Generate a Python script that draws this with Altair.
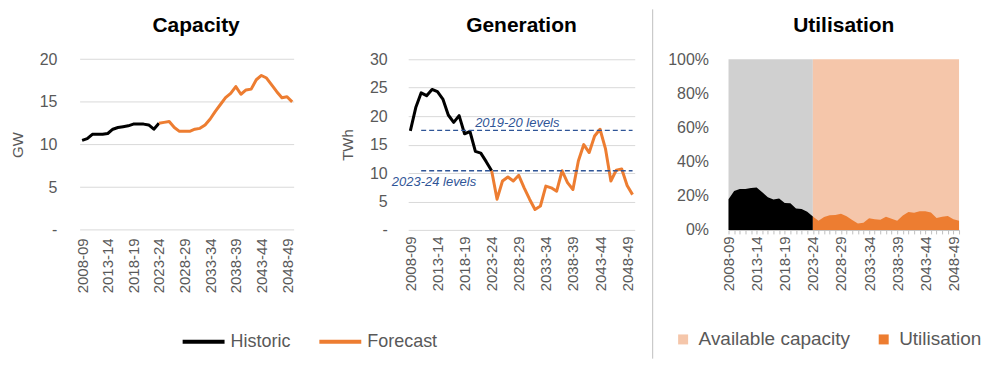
import altair as alt
import pandas as pd

# ---------------- data ----------------
years = ["2008-09", "2009-10", "2010-11", "2011-12", "2012-13", "2013-14", "2014-15",
         "2015-16", "2016-17", "2017-18", "2018-19", "2019-20", "2020-21", "2021-22",
         "2022-23", "2023-24", "2024-25", "2025-26", "2026-27", "2027-28", "2028-29",
         "2029-30", "2030-31", "2031-32", "2032-33", "2033-34", "2034-35", "2035-36",
         "2036-37", "2037-38", "2038-39", "2039-40", "2040-41", "2041-42", "2042-43",
         "2043-44", "2044-45", "2045-46", "2046-47", "2047-48", "2048-49", "2049-50"]
label_years = ["2008-09", "2013-14", "2018-19", "2023-24", "2028-29", "2033-34",
               "2038-39", "2043-44", "2048-49"]
hist_years = years[:16]
fcst_years = years[15:]

# Capacity (GW)
cap_hist = [10.5, 10.7, 11.2, 11.2, 11.2, 11.3, 11.8, 12.0, 12.1, 12.2, 12.4, 12.4,
            12.4, 12.3, 11.8, 12.5]
cap_fcst = [12.5, 12.6, 12.7, 12.0, 11.55, 11.55, 11.55, 11.8, 11.9, 12.3, 13.0, 13.9,
            14.7, 15.5, 16.0, 16.8, 15.9, 16.4, 16.5, 17.6, 18.1, 17.8, 17.0, 16.2,
            15.5, 15.6, 15.0]

# Generation (TWh)
gen_hist = [17.4, 21.5, 24.1, 23.6, 24.7, 24.3, 23.0, 20.2, 18.9, 20.1, 16.9, 17.3,
            13.8, 13.5, 12.0, 10.4]
gen_fcst = [10.4, 5.4, 8.6, 9.3, 8.6, 9.6, 7.4, 5.4, 3.6, 4.2, 7.7, 7.4, 6.8, 10.4,
            8.3, 7.1, 12.1, 15.0, 13.6, 16.5, 17.7, 14.3, 8.6, 10.5, 10.7, 7.8, 6.2]

# Utilisation (%)
util_hist = [18.0, 22.8, 24.0, 24.0, 24.6, 24.8, 22.0, 19.2, 17.8, 18.4, 15.8, 15.6,
             12.6, 12.3, 10.6, 7.8]
util_fcst = [7.8, 5.3, 7.5, 8.6, 8.8, 9.5, 8.0, 5.8, 3.8, 4.2, 6.8, 6.3, 6.0, 7.7, 6.5,
             5.3, 8.5, 10.5, 10.0, 11.0, 11.0, 10.2, 7.0, 7.7, 8.2, 6.2, 5.3]
available_level = 100

# Reference levels on the generation chart
ref_labels = ["2019-20 levels", "2023-24 levels"]
ref_levels = [17.5, 10.4]
ref_start = ["2010-11", "2010-11"]
ref_text_anchor = ["2027-28", "2012-13"]

cap_ticks = [0, 5, 10, 15, 20]
gen_ticks = [0, 5, 10, 15, 20, 25, 30]
util_ticks = [0, 20, 40, 60, 80, 100]

# ---------------- styling ----------------
TXT = "#595959"
GRID = "#D9D9D9"
ORANGE = "#ED7D31"
PEACH = "#F5C6AA"
HGRAY = "#D0D0D0"
BLUE = "#2F5597"
FONT = "Liberation Sans"

PLOT_H = 171


def period_frame(hist, fcst):
    return pd.DataFrame({
        "year": hist_years + fcst_years,
        "value": hist + fcst,
        "period": ["Historic"] * len(hist) + ["Forecast"] * len(fcst),
    })


stroke_enc = alt.Stroke(
    "period:N",
    scale=alt.Scale(domain=["Historic", "Forecast"], range=["#000000", ORANGE]),
    legend=alt.Legend(orient="none", legendX=103, legendY=260, direction="horizontal",
                      title=None, symbolType="stroke", symbolSize=1764,
                      symbolStrokeWidth=4, labelFontSize=18, labelColor=TXT,
                      labelOffset=4, columnPadding=20, labelFont=FONT),
)


def x_line(scale, label_pad):
    return alt.X(
        "year:O",
        scale=scale,
        axis=alt.Axis(values=label_years, labelAngle=-90, labelFontSize=15,
                      labelColor=TXT, labelPadding=label_pad, ticks=False, tickSize=0,
                      domain=False, grid=False, labelOverlap=False),
        title=None,
    )


def y_axis(ticks, title, grid, label_pad=21):
    return alt.Axis(values=ticks, grid=grid, gridColor=GRID, domain=False, ticks=False,
                    tickSize=0, labelPadding=label_pad, labelFontSize=16, labelColor=TXT,
                    labelExpr="datum.value == 0 ? '-' : datum.label",
                    title=title, titleFontSize=15, titleFontWeight="normal",
                    titleColor=TXT, titlePadding=14)


def title(text, dy=0):
    return alt.TitleParams(text, fontSize=21, fontWeight="bold", color="#000000",
                           offset=18, anchor="middle", frame="group",
                           baseline="alphabetic", dy=dy, font=FONT)


# ---------------- Capacity ----------------
cap_df = period_frame(cap_hist, cap_fcst)
cap_grid_df = pd.DataFrame({"value": cap_ticks,
                            "year": [years[0]] * len(cap_ticks),
                            "year_end": [years[-1]] * len(cap_ticks)})
x_cap = x_line(alt.Scale(type="point", domain=years, range=[1.7, 217.3]), 8)
y_cap = alt.Y("value:Q", scale=alt.Scale(domain=[0, 20]),
              axis=y_axis(cap_ticks, "GW", False))

cap_grid = alt.Chart(cap_grid_df).mark_rule(color=GRID, strokeWidth=1,
                                            xOffset=-2, x2Offset=2).encode(
    x=x_cap, x2="year_end", y=y_cap)
cap_lines = alt.Chart(cap_df).mark_line(strokeWidth=3, strokeJoin="round").encode(
    x=x_cap, y=y_cap, stroke=stroke_enc)
capacity = alt.layer(cap_grid, cap_lines).properties(
    width=237, height=PLOT_H, title=title("Capacity", dy=20))

# ---------------- Generation ----------------
gen_df = period_frame(gen_hist, gen_fcst)
gen_scale = alt.Scale(type="point", domain=years, padding=0.4)
x_gen = x_line(gen_scale, 6)
y_gen = alt.Y("value:Q", scale=alt.Scale(domain=[0, 30]),
              axis=y_axis(gen_ticks, "TWh", True))
ref_df = pd.DataFrame({"value": ref_levels, "label": ref_labels, "year": ref_start,
                       "year_end": [years[-1]] * len(ref_levels),
                       "anchor": ref_text_anchor})

gen_lines = alt.Chart(gen_df).mark_line(strokeWidth=3, strokeJoin="round").encode(
    x=x_gen, y=y_gen, stroke=stroke_enc)
ref_rules = alt.Chart(ref_df).mark_rule(color=BLUE, strokeWidth=1.3,
                                        strokeDash=[5, 3]).encode(
    x=x_gen, x2="year_end", y=y_gen)
ref_text_top = alt.Chart(ref_df.iloc[[0]]).mark_text(
    color=BLUE, fontSize=13, fontStyle="italic", font=FONT, align="center",
    baseline="middle", dx=4, dy=-7).encode(
    x=alt.X("anchor:O", scale=gen_scale), y=y_gen, text="label:N")
ref_text_bot = alt.Chart(ref_df.iloc[[1]]).mark_text(
    color=BLUE, fontSize=13, fontStyle="italic", font=FONT, align="center",
    baseline="middle", dx=2, dy=11).encode(
    x=alt.X("anchor:O", scale=gen_scale), y=y_gen, text="label:N")
generation = alt.layer(gen_lines, ref_rules, ref_text_top, ref_text_bot).properties(
    width=227, height=PLOT_H, title=title("Generation", dy=20))

# ---------------- Utilisation ----------------
hist_avail_df = pd.DataFrame({"year": hist_years,
                              "value": [available_level] * len(hist_years)})
fcst_avail_df = pd.DataFrame({"year": fcst_years,
                              "value": [available_level] * len(fcst_years),
                              "series": ["Available capacity"] * len(fcst_years)})
hist_util_df = pd.DataFrame({"year": hist_years, "value": util_hist})
fcst_util_df = pd.DataFrame({"year": fcst_years, "value": util_fcst,
                             "series": ["Utilisation"] * len(fcst_years)})

label_list = "[" + ",".join("'" + y + "'" for y in label_years) + "]"
x_util = alt.X(
    "year:O",
    scale=alt.Scale(type="point", domain=years, padding=0),
    axis=alt.Axis(values=years, labelAngle=-90, labelFontSize=15, labelColor=TXT,
                  labelPadding=2, ticks=True, tickSize=4, tickColor="#BFBFBF",
                  domain=True, domainColor="#BFBFBF", grid=False, labelOverlap=False,
                  labelExpr="indexof(" + label_list + ", datum.value) >= 0 ? datum.value : ''"),
    title=None,
)
y_util = alt.Y("value:Q", scale=alt.Scale(domain=[0, 100]),
               axis=alt.Axis(values=util_ticks, grid=False, domain=False, ticks=False,
                             tickSize=0, labelPadding=20, labelFontSize=16,
                             labelColor=TXT, labelExpr="datum.value + '%'", title=None))
fill_enc = alt.Fill(
    "series:N",
    scale=alt.Scale(domain=["Available capacity", "Utilisation"], range=[PEACH, ORANGE]),
    legend=alt.Legend(orient="none", legendX=597, legendY=271, direction="horizontal",
                      title=None, symbolType="square", symbolSize=100,
                      labelFontSize=19, labelColor=TXT, labelOffset=6,
                      columnPadding=24, labelFont=FONT, symbolStrokeWidth=0),
)

a1 = alt.Chart(hist_avail_df).mark_area(color=HGRAY).encode(x=x_util, y=y_util)
a2 = alt.Chart(fcst_avail_df).mark_area().encode(x=x_util, y=y_util, fill=fill_enc)
a3 = alt.Chart(hist_util_df).mark_area(color="#000000").encode(x=x_util, y=y_util)
a4 = alt.Chart(fcst_util_df).mark_area().encode(x=x_util, y=y_util, fill=fill_enc)
separator = alt.Chart(pd.DataFrame({"k": [0]})).mark_rule(
    color="#BFBFBF", strokeWidth=1).encode(
    x=alt.value(-76), y=alt.value(-50), y2=alt.value(300))
utilisation = alt.layer(a1, a2, a3, a4, separator).properties(
    width=231, height=PLOT_H, title=title("Utilisation", dy=62))

chart = alt.hconcat(capacity, generation, utilisation, spacing=94, bounds="flush").resolve_scale(
    x="independent", y="independent", stroke="shared", fill="shared"
).properties(
    padding={"left": 2, "top": 0, "right": 0, "bottom": 0}
).configure(font=FONT).configure_view(stroke=None)

chart.save("out.html", embed_options={"renderer": "svg", "actions": False})
